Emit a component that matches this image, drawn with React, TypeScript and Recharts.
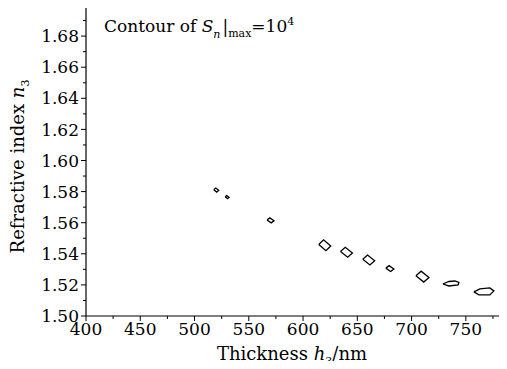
import React from 'react';
import { ComposedChart, Line, XAxis, YAxis, ReferenceLine } from 'recharts';

// Contour centres (thickness nm, refractive index)
const contourX = [520, 530, 570, 620, 640, 660.5, 680, 710, 736.2, 766.6];
const contourY = [1.581, 1.5765, 1.5615, 1.5455, 1.541, 1.536, 1.5305, 1.5253, 1.5209, 1.5158];
// Contour half extents (nm, index units)
const contourHalfW = [2.3, 1.8, 3.2, 5.5, 5.5, 5.5, 3.7, 6, 7.4, 9.2];
const contourHalfH = [0.0013, 0.001, 0.0016, 0.0035, 0.0032, 0.0032, 0.0019, 0.0035, 0.0016, 0.00225];
const contourKind = ['diamond', 'diamond', 'diamond', 'diamond', 'diamond', 'diamond', 'diamond', 'diamond', 'tear', 'hex'];

const xMajorTicks = [400, 450, 500, 550, 600, 650, 700, 750];
const xMinorTicks = [425, 475, 525, 575, 625, 675, 725, 775];
const yMajorTicks = [1.5, 1.52, 1.54, 1.56, 1.58, 1.6, 1.62, 1.64, 1.66, 1.68];
const yMinorTicks = [1.51, 1.53, 1.55, 1.57, 1.59, 1.61, 1.63, 1.65, 1.67, 1.69];

const xDomain: [number, number] = [400, 787];
const yDomain: [number, number] = [1.5, 1.7];

// normalised outline templates (u: -1..1 along x, v: -1..1 along y, v up)
const templates: Record<string, [number, number][]> = {
  diamond: [[-1, 0.15], [-0.2, 1], [1, -0.15], [0.2, -1], [-1, 0.15]],
  tear: [[-1, -0.2], [-0.25, 0.8], [0.5, 1], [1, 0.4], [0.9, -0.6], [-0.25, -1], [-1, -0.2]],
  hex: [[-1, -0.14], [-0.4, 0.71], [0.6, 1], [1, 0.14], [0.6, -1], [-0.5, -1], [-1, -0.14]],
};

const contours = contourX.map((cx, i) =>
  templates[contourKind[i]].map(([u, v]) => ({
    x: cx + u * contourHalfW[i],
    y: contourY[i] + v * contourHalfH[i],
  }))
);

const FONT = '"DejaVu Serif", serif';
const allXTicks = [...xMajorTicks, ...xMinorTicks].sort((a, b) => a - b);
const allYTicks = [...yMajorTicks, ...yMinorTicks].sort((a, b) => a - b);

const XTick = (props: any) => {
  const { x, y, payload } = props;
  const major = xMajorTicks.includes(payload.value);
  const axisY = y - 7;
  return (
    <g>
      <line x1={x} x2={x} y1={axisY} y2={axisY + (major ? 5 : 3)} stroke="#000" strokeWidth={1} />
      {major && (
        <text x={x} y={y} dy="0.71em" textAnchor="middle" fontFamily={FONT} fontSize={17} fill="#000">
          {payload.value}
        </text>
      )}
    </g>
  );
};

const YTick = (props: any) => {
  const { x, y, payload } = props;
  const major = yMajorTicks.some((t) => Math.abs(t - payload.value) < 1e-9);
  const axisX = x + 7;
  return (
    <g>
      <line x1={axisX} x2={axisX - (major ? 5 : 3)} y1={y} y2={y} stroke="#000" strokeWidth={1} />
      {major && (
        <text x={x} y={y} dy="0.36em" textAnchor="end" fontFamily={FONT} fontSize={17} fill="#000">
          {payload.value.toFixed(2)}
        </text>
      )}
    </g>
  );
};

const XTitle = (props: any) => {
  const vb = props.viewBox || { x: 86, y: 316, width: 420, height: 53 };
  const cx = vb.x + vb.width / 2 - 4;
  return (
    <text x={cx} y={vb.y + 44} textAnchor="middle" fontFamily={FONT} fontSize={18} fill="#000">
      Thickness <tspan fontStyle="italic">h</tspan>
      <tspan dy={5} fontSize={11}>3</tspan>
      <tspan dy={-5}>/nm</tspan>
    </text>
  );
};

const YTitle = (props: any) => {
  const vb = props.viewBox || { x: 0, y: 5, width: 86, height: 311 };
  const cx = vb.x + 18;
  const cy = vb.y + vb.height / 2 + 6;
  return (
    <text
      x={cx}
      y={cy}
      transform={`rotate(-90, ${cx}, ${cy})`}
      textAnchor="middle"
      dy="0.35em"
      fontFamily={FONT}
      fontSize={18}
      fill="#000"
    >
      Refractive index <tspan fontStyle="italic">n</tspan>
      <tspan dy={5} fontSize={11}>3</tspan>
    </text>
  );
};

export default function App() {
  return (
    <div style={{ position: 'relative', width: 507, height: 369, margin: -8, background: '#fff' }}>
      <ComposedChart width={507} height={369} margin={{ top: 5, right: 1, bottom: 0, left: 0 }}>
        <XAxis
          type="number"
          dataKey="x"
          domain={xDomain}
          ticks={allXTicks}
          allowDataOverflow
          height={53}
          tickSize={5}
          tickMargin={2}
          tickLine={false}
          tick={<XTick />}
          axisLine={{ stroke: '#000', strokeWidth: 1.2 }}
          interval={0}
          label={<XTitle />}
        />
        <YAxis
          type="number"
          dataKey="y"
          domain={yDomain}
          ticks={allYTicks}
          allowDataOverflow
          width={86}
          tickSize={5}
          tickMargin={2}
          tickLine={false}
          tick={<YTick />}
          axisLine={{ stroke: '#000', strokeWidth: 1.2 }}
          interval={0}
          label={<YTitle />}
        />
        <ReferenceLine y={1.7} stroke="#000" strokeWidth={1.2} />
        {contours.map((pts, i) => (
          <Line
            key={i}
            data={pts}
            dataKey="y"
            type="linear"
            dot={false}
            activeDot={false}
            stroke="#000"
            strokeWidth={1.3}
            isAnimationActive={false}
          />
        ))}
      </ComposedChart>
      <div
        style={{
          position: 'absolute',
          left: 104,
          top: 16,
          fontFamily: FONT,
          fontSize: 17,
          lineHeight: '20px',
          color: '#000',
          whiteSpace: 'nowrap',
        }}
      >
        Contour of <i>S</i>
        <span style={{ position: 'relative', top: 6, fontSize: 11, fontStyle: 'italic' }}>n</span>
        <span style={{ display: 'inline-block', marginLeft: 2, transform: 'scaleY(1.1)' }}>|</span>
        <span style={{ position: 'relative', top: 5, fontSize: 11 }}>max</span>
        =10
        <span style={{ position: 'relative', top: -7, fontSize: 11 }}>4</span>
      </div>
    </div>
  );
}
